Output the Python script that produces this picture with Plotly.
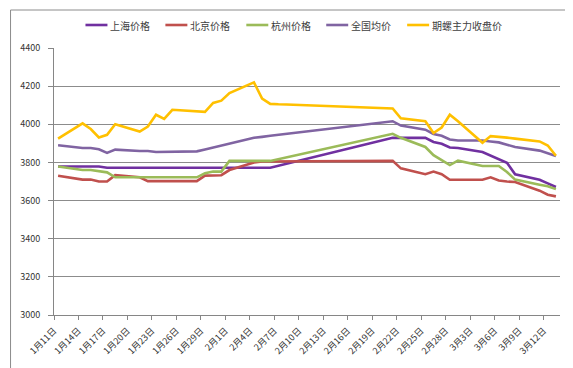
import pandas as pd
import plotly.graph_objects as go

dates = ["2013-01-11", "2013-01-14", "2013-01-15", "2013-01-16", "2013-01-17", "2013-01-18",
         "2013-01-21", "2013-01-22", "2013-01-23", "2013-01-24", "2013-01-25",
         "2013-01-28", "2013-01-29", "2013-01-30", "2013-01-31", "2013-02-01",
         "2013-02-04", "2013-02-05", "2013-02-06", "2013-02-07", "2013-02-08",
         "2013-02-21", "2013-02-22",
         "2013-02-25", "2013-02-26", "2013-02-27", "2013-02-28", "2013-03-01",
         "2013-03-04", "2013-03-05", "2013-03-06", "2013-03-07", "2013-03-08",
         "2013-03-11", "2013-03-12", "2013-03-13"]

shanghai = [3779, 3779, 3779, 3779, 3772, 3772, 3772, 3772, 3772, 3772, 3772,
            3772, 3772, 3772, 3772, 3772, 3772, 3772, 3772, None, None, 3929, 3929,
            3929, 3907, 3898, 3878, 3876, 3855, 3835, 3817, 3798, 3738, 3709, 3690, 3671]
beijing = [3730, 3710, 3710, 3700, 3700, 3733, 3722, 3702, 3702, 3702, 3702,
           3702, 3731, 3731, 3733, 3760, 3800, 3805, 3805, None, None, 3808, 3769,
           3738, 3752, 3738, 3709, 3709, 3709, 3722, 3705, 3700, 3697, 3652, 3631, 3622]
hangzhou = [3779, 3760, 3760, 3752, 3748, 3722, 3722, 3722, 3722, 3722, 3722,
            3722, 3743, 3752, 3752, 3808, 3808, 3808, 3808, None, None, 3950, 3929,
            3881, 3838, 3812, 3786, 3809, 3781, 3781, 3781, 3750, 3710, 3683, 3675, 3660]
national = [3890, 3876, 3876, 3869, 3850, 3867, 3860, 3860, 3855, 3855, 3858,
            3858, 3868, 3878, 3886, 3897, 3929, 3934, 3940, None, None, 4016, 3993,
            3972, 3949, 3940, 3920, 3915, 3915, 3910, 3905, 3893, 3881, 3862, 3849, 3834]
futures = [3925, 4005, 3975, 3931, 3945, 4000, 3962, 3988, 4050, 4028, 4076,
           4070, 4065, 4112, 4124, 4164, 4220, 4135, 4107, 4105, 4104, 4083, 4031,
           4016, 3954, 3983, 4050, 4016, 3903, 3938, 3935, 3930, 3925, 3910, 3889, 3835]

series_names = ["上海价格", "北京价格", "杭州价格", "全国均价", "期螺主力收盘价"]
series_values = [shanghai, beijing, hangzhou, national, futures]
colors = ["#7030A0", "#C0504D", "#9BBB59", "#8064A2", "#FFC000"]

tick_dates = pd.date_range("2013-01-11", "2013-03-12", freq="3D")
tick_labels = [f"{d.month}月{d.day}日" for d in tick_dates]

x = pd.to_datetime(dates) + pd.Timedelta(hours=12)

FONT = "Noto Sans CJK SC"
fig = go.Figure()
for name, vals, col in zip(series_names, series_values, colors):
    fig.add_trace(go.Scatter(x=x, y=vals, name=name, mode="lines", connectgaps=True,
                             line=dict(color=col, width=2.6), showlegend=False))

W, H = 573, 368
L, R, T, B = 45.5, 21, 40, 61
pw, ph = W - L - R, H - T - B

def px(xp):
    return (xp - L) / pw

def py(yp):
    return (H - B - yp) / ph

shapes = [dict(type="rect", xref="paper", yref="paper", x0=px(2), x1=px(569), y0=py(365), y1=py(2),
               line=dict(color="#8c8c8c", width=1), layer="below")]
annotations = []
leg_x = [77, 157, 238, 318, 399]
for lx, name, col in zip(leg_x, series_names, colors):
    shapes.append(dict(type="line", xref="paper", yref="paper", x0=px(lx), x1=px(lx + 22),
                       y0=py(17), y1=py(17), line=dict(color=col, width=2.6)))
    annotations.append(dict(text=name, xref="paper", yref="paper", x=px(lx + 23), y=py(17),
                            xanchor="left", yanchor="middle", showarrow=False,
                            font=dict(family=FONT, size=10, color="#404040")))

fig.update_layout(
    width=W, height=H,
    margin=dict(l=L, r=R, t=T, b=B),
    paper_bgcolor="white", plot_bgcolor="white",
    font=dict(family=FONT, color="#333333"),
    shapes=shapes, annotations=annotations,
    xaxis=dict(type="date", range=["2013-01-11", "2013-03-14"], tickvals=tick_dates,
               ticktext=tick_labels, tickangle=-45, ticks="outside", ticklen=4,
               tickcolor="#868686", showline=True, linecolor="#868686", linewidth=1,
               showgrid=False, zeroline=False, ticklabelstandoff=2,
               tickfont=dict(size=9, family=FONT, color="#333333")),
    yaxis=dict(range=[3000, 4400], dtick=200, tick0=3000, ticks="outside", ticklen=5,
               tickcolor="#868686", showline=True, linecolor="#868686", linewidth=1,
               showgrid=True, gridcolor="#8c8c8c", gridwidth=1, zeroline=False,
               ticklabelstandoff=6,
               tickfont=dict(size=9, family=FONT, color="#333333")),
)

fig.write_html("out.html")
